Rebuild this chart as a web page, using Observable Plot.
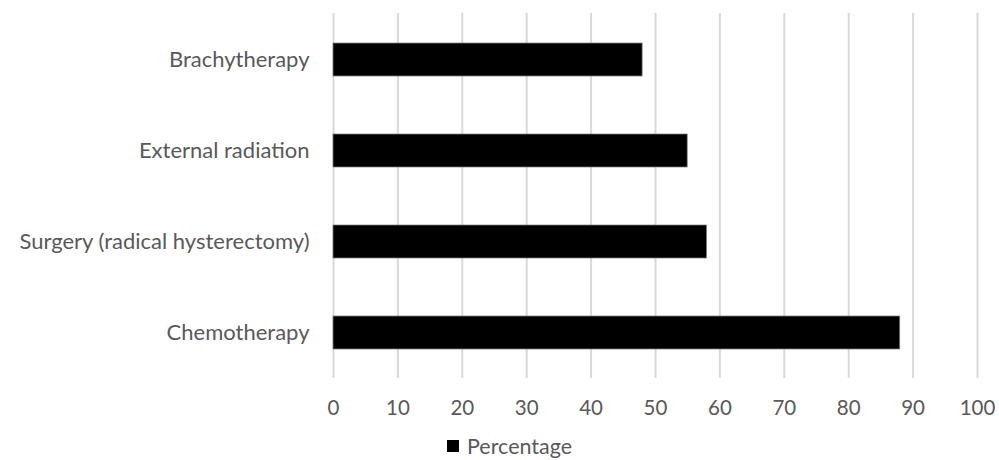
<!DOCTYPE html>
<html>
<head>
<meta charset="utf-8">
<script src="https://cdn.jsdelivr.net/npm/d3@7"></script>
<script src="https://cdn.jsdelivr.net/npm/@observablehq/plot@0.6"></script>
<style>
  html, body { margin: 0; padding: 0; background: #fff; }
  #chart { width: 999px; font-family: Lato, "Open Sans", sans-serif; }
  .legend { display: flex; align-items: center; height: 28px; margin-left: 447px; color: #595959; font-size: 21.5px; }
  .legend .swatch { width: 12px; height: 12px; background: #000; margin-right: 8px; }
</style>
</head>
<body>
<div id="chart"></div>
<script>
// Treatment categories, top to bottom
const treatments = ["Brachytherapy", "External radiation", "Surgery (radical hysterectomy)", "Chemotherapy"];
// Percentage for each treatment
const percentages = [48, 55, 58, 88];
// X axis ticks
const xTicks = [0, 10, 20, 30, 40, 50, 60, 70, 80, 90, 100];
const seriesName = "Percentage";

const rows = treatments.map((t, i) => ({treatment: t, value: percentages[i]}));

const plot = Plot.plot({
  width: 999,
  height: 432,
  marginTop: 13,
  marginBottom: 54,
  marginLeft: 333,
  marginRight: 22,
  style: {fontFamily: "Lato, 'Open Sans', sans-serif", fontSize: "20px", color: "#595959", background: "#fff"},
  x: {domain: [0, 100], ticks: xTicks, label: null},
  y: {domain: treatments, label: null, paddingInner: 0.64, paddingOuter: 0.32},
  marks: [
    Plot.gridX(xTicks, {stroke: "#d9d9d9", strokeOpacity: 1, strokeWidth: 2}),
    Plot.barX(rows, {x: "value", y: "treatment", fill: "#000", stroke: "#7f7f7f", strokeWidth: 0.75}),
    Plot.axisX(xTicks, {tickSize: 0, tickPadding: 22, fontSize: 20.5, fill: "#595959", label: null}),
    Plot.axisY({tickSize: 0, tickPadding: 24, fontSize: 22, fill: "#595959", label: null})
  ]
});
document.getElementById("chart").appendChild(plot);

const legend = document.createElement("div");
legend.className = "legend";
legend.innerHTML = `<span class="swatch"></span><span>${seriesName}</span>`;
document.getElementById("chart").appendChild(legend);
</script>
</body>
</html>
